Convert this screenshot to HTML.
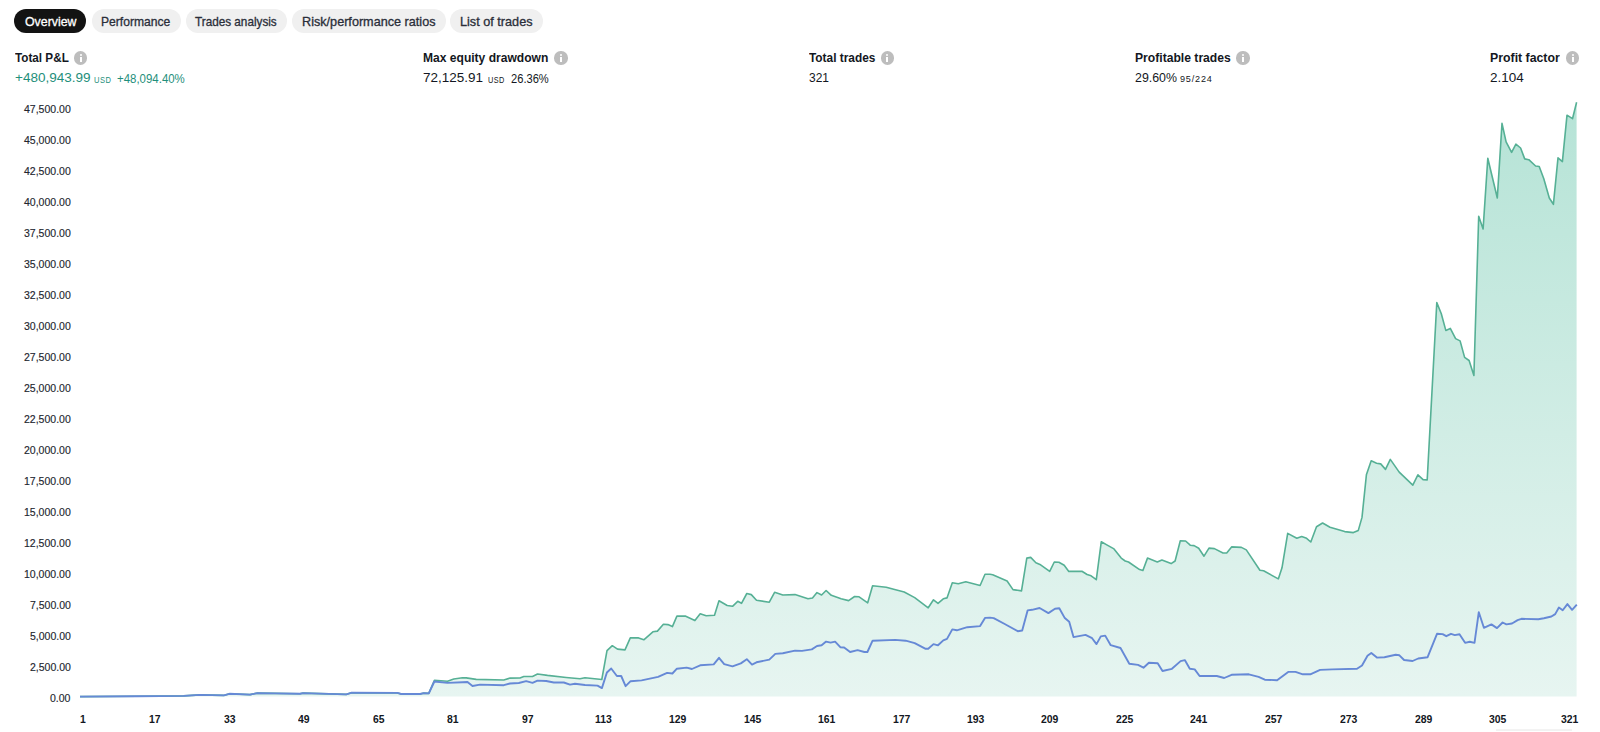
<!DOCTYPE html>
<html><head><meta charset="utf-8">
<style>
html,body{margin:0;padding:0;background:#fff;width:1600px;height:732px;overflow:hidden;position:relative;font-family:"Liberation Sans",sans-serif;}
.pill{position:absolute;top:9.2px;height:23.6px;border-radius:12px;background:#f0f0f0;}
.pill.act{background:#131313;}
.t{position:absolute;white-space:nowrap;transform-origin:0 0;}
.sk{-webkit-text-stroke:0.3px currentColor;}
.sk2{-webkit-text-stroke:0.15px currentColor;}
.info{position:absolute;width:13.4px;height:13.4px;border-radius:50%;background:#bdbdbd;}
.info:before{content:"";position:absolute;left:5.7px;top:2.4px;width:2.1px;height:2px;background:#fff;border-radius:1px;}
.info:after{content:"";position:absolute;left:5.7px;top:5.6px;width:2.1px;height:5.4px;background:#fff;}
svg{position:absolute;left:0;top:0;}
</style></head><body>
<div class="pill act" style="left:14px;width:72.0px"></div><div class="pill" style="left:91.5px;width:89.5px"></div><div class="pill" style="left:186px;width:100.7px"></div><div class="pill" style="left:291.8px;width:153.8px"></div><div class="pill" style="left:450px;width:92.8px"></div>
<div class="info" style="left:74.1px;top:51.3px"></div><div class="info" style="left:554.3px;top:51.3px"></div><div class="info" style="left:880.5px;top:51.3px"></div><div class="info" style="left:1236.4px;top:51.3px"></div><div class="info" style="left:1565.9px;top:51.3px"></div>
<span class="t sk" style="left:24.50px;top:15.70px;font-size:12.40px;line-height:12.40px;font-weight:normal;color:#ffffff;transform:scaleX(0.9960);">Overview</span><span class="t sk" style="left:100.60px;top:15.70px;font-size:12.40px;line-height:12.40px;font-weight:normal;color:#2a2e39;transform:scaleX(0.9776);">Performance</span><span class="t sk" style="left:195.20px;top:15.70px;font-size:12.40px;line-height:12.40px;font-weight:normal;color:#2a2e39;transform:scaleX(0.9470);">Trades analysis</span><span class="t sk" style="left:301.90px;top:15.70px;font-size:12.40px;line-height:12.40px;font-weight:normal;color:#2a2e39;transform:scaleX(1.0204);">Risk/performance ratios</span><span class="t sk" style="left:460.40px;top:15.70px;font-size:12.40px;line-height:12.40px;font-weight:normal;color:#2a2e39;transform:scaleX(1.0227);">List of trades</span><span class="t " style="left:14.60px;top:51.76px;font-size:12.69px;line-height:12.69px;font-weight:bold;color:#131722;transform:scaleX(0.9233);">Total P&amp;L</span><span class="t " style="left:423.20px;top:52.01px;font-size:12.28px;line-height:12.28px;font-weight:bold;color:#131722;transform:scaleX(0.9832);">Max equity drawdown</span><span class="t " style="left:808.60px;top:51.76px;font-size:12.69px;line-height:12.69px;font-weight:bold;color:#131722;transform:scaleX(0.9354);">Total trades</span><span class="t " style="left:1134.60px;top:51.76px;font-size:12.69px;line-height:12.69px;font-weight:bold;color:#131722;transform:scaleX(0.9567);">Profitable trades</span><span class="t " style="left:1490.10px;top:51.76px;font-size:12.69px;line-height:12.69px;font-weight:bold;color:#131722;transform:scaleX(0.9706);">Profit factor</span><span class="t " style="left:15.00px;top:71.46px;font-size:13.40px;line-height:13.40px;font-weight:normal;color:#1f8f7b;transform:scaleX(1.0094);">+480,943.99</span><span class="t " style="left:94.10px;top:74.67px;font-size:9.60px;line-height:9.60px;font-weight:normal;color:#1f8f7b;transform:scaleX(0.7873);letter-spacing:0.6px;">USD</span><span class="t " style="left:117.20px;top:72.64px;font-size:12.00px;line-height:12.00px;font-weight:normal;color:#1f8f7b;transform:scaleX(0.9541);">+48,094.40%</span><span class="t " style="left:423.00px;top:71.46px;font-size:13.40px;line-height:13.40px;font-weight:normal;color:#131722;transform:scaleX(1.0064);">72,125.91</span><span class="t " style="left:488.00px;top:74.67px;font-size:9.60px;line-height:9.60px;font-weight:normal;color:#131722;transform:scaleX(0.7640);letter-spacing:0.6px;">USD</span><span class="t " style="left:511.00px;top:72.64px;font-size:12.00px;line-height:12.00px;font-weight:normal;color:#131722;transform:scaleX(0.9274);">26.36%</span><span class="t " style="left:808.50px;top:71.46px;font-size:13.40px;line-height:13.40px;font-weight:normal;color:#131722;transform:scaleX(0.8948);">321</span><span class="t " style="left:1134.60px;top:71.46px;font-size:13.40px;line-height:13.40px;font-weight:normal;color:#131722;transform:scaleX(0.9240);">29.60%</span><span class="t " style="left:1180.10px;top:74.42px;font-size:9.90px;line-height:9.90px;font-weight:normal;color:#131722;transform:scaleX(0.9171);letter-spacing:0.9px;">95/224</span><span class="t " style="left:1490.10px;top:71.46px;font-size:13.40px;line-height:13.40px;font-weight:normal;color:#131722;transform:scaleX(1.0081);">2.104</span><span class="t sk2" style="left:50.13px;top:692.18px;font-size:11.60px;line-height:11.60px;font-weight:normal;color:#22252e;transform:scaleX(0.9068);">0.00</span><span class="t sk2" style="left:29.65px;top:661.18px;font-size:11.60px;line-height:11.60px;font-weight:normal;color:#22252e;transform:scaleX(0.9068);">2,500.00</span><span class="t sk2" style="left:29.65px;top:630.18px;font-size:11.60px;line-height:11.60px;font-weight:normal;color:#22252e;transform:scaleX(0.9068);">5,000.00</span><span class="t sk2" style="left:29.65px;top:599.18px;font-size:11.60px;line-height:11.60px;font-weight:normal;color:#22252e;transform:scaleX(0.9068);">7,500.00</span><span class="t sk2" style="left:23.80px;top:568.18px;font-size:11.60px;line-height:11.60px;font-weight:normal;color:#22252e;transform:scaleX(0.9068);">10,000.00</span><span class="t sk2" style="left:23.80px;top:537.18px;font-size:11.60px;line-height:11.60px;font-weight:normal;color:#22252e;transform:scaleX(0.9068);">12,500.00</span><span class="t sk2" style="left:23.80px;top:506.18px;font-size:11.60px;line-height:11.60px;font-weight:normal;color:#22252e;transform:scaleX(0.9068);">15,000.00</span><span class="t sk2" style="left:23.80px;top:475.18px;font-size:11.60px;line-height:11.60px;font-weight:normal;color:#22252e;transform:scaleX(0.9068);">17,500.00</span><span class="t sk2" style="left:23.80px;top:444.18px;font-size:11.60px;line-height:11.60px;font-weight:normal;color:#22252e;transform:scaleX(0.9068);">20,000.00</span><span class="t sk2" style="left:23.80px;top:413.18px;font-size:11.60px;line-height:11.60px;font-weight:normal;color:#22252e;transform:scaleX(0.9068);">22,500.00</span><span class="t sk2" style="left:23.80px;top:382.18px;font-size:11.60px;line-height:11.60px;font-weight:normal;color:#22252e;transform:scaleX(0.9068);">25,000.00</span><span class="t sk2" style="left:23.80px;top:351.18px;font-size:11.60px;line-height:11.60px;font-weight:normal;color:#22252e;transform:scaleX(0.9068);">27,500.00</span><span class="t sk2" style="left:23.80px;top:320.18px;font-size:11.60px;line-height:11.60px;font-weight:normal;color:#22252e;transform:scaleX(0.9068);">30,000.00</span><span class="t sk2" style="left:23.80px;top:289.18px;font-size:11.60px;line-height:11.60px;font-weight:normal;color:#22252e;transform:scaleX(0.9068);">32,500.00</span><span class="t sk2" style="left:23.80px;top:258.18px;font-size:11.60px;line-height:11.60px;font-weight:normal;color:#22252e;transform:scaleX(0.9068);">35,000.00</span><span class="t sk2" style="left:23.80px;top:227.18px;font-size:11.60px;line-height:11.60px;font-weight:normal;color:#22252e;transform:scaleX(0.9068);">37,500.00</span><span class="t sk2" style="left:23.80px;top:196.18px;font-size:11.60px;line-height:11.60px;font-weight:normal;color:#22252e;transform:scaleX(0.9068);">40,000.00</span><span class="t sk2" style="left:23.80px;top:165.18px;font-size:11.60px;line-height:11.60px;font-weight:normal;color:#22252e;transform:scaleX(0.9068);">42,500.00</span><span class="t sk2" style="left:23.80px;top:134.18px;font-size:11.60px;line-height:11.60px;font-weight:normal;color:#22252e;transform:scaleX(0.9068);">45,000.00</span><span class="t sk2" style="left:23.80px;top:103.18px;font-size:11.60px;line-height:11.60px;font-weight:normal;color:#22252e;transform:scaleX(0.9068);">47,500.00</span><span class="t " style="left:79.60px;top:714.50px;font-size:10.40px;line-height:10.40px;font-weight:bold;color:#131722;transform:scaleX(1.0030);">1</span><span class="t " style="left:149.30px;top:714.50px;font-size:10.40px;line-height:10.40px;font-weight:bold;color:#131722;transform:scaleX(1.0030);">17</span><span class="t " style="left:223.90px;top:714.50px;font-size:10.40px;line-height:10.40px;font-weight:bold;color:#131722;transform:scaleX(1.0030);">33</span><span class="t " style="left:298.20px;top:714.50px;font-size:10.40px;line-height:10.40px;font-weight:bold;color:#131722;transform:scaleX(1.0030);">49</span><span class="t " style="left:372.70px;top:714.50px;font-size:10.40px;line-height:10.40px;font-weight:bold;color:#131722;transform:scaleX(1.0030);">65</span><span class="t " style="left:447.20px;top:714.50px;font-size:10.40px;line-height:10.40px;font-weight:bold;color:#131722;transform:scaleX(1.0030);">81</span><span class="t " style="left:522.20px;top:714.50px;font-size:10.40px;line-height:10.40px;font-weight:bold;color:#131722;transform:scaleX(1.0030);">97</span><span class="t " style="left:594.59px;top:714.50px;font-size:10.40px;line-height:10.40px;font-weight:bold;color:#131722;transform:scaleX(1.0030);">113</span><span class="t " style="left:669.10px;top:714.50px;font-size:10.40px;line-height:10.40px;font-weight:bold;color:#131722;transform:scaleX(1.0030);">129</span><span class="t " style="left:743.60px;top:714.50px;font-size:10.40px;line-height:10.40px;font-weight:bold;color:#131722;transform:scaleX(1.0030);">145</span><span class="t " style="left:817.70px;top:714.50px;font-size:10.40px;line-height:10.40px;font-weight:bold;color:#131722;transform:scaleX(1.0030);">161</span><span class="t " style="left:892.70px;top:714.50px;font-size:10.40px;line-height:10.40px;font-weight:bold;color:#131722;transform:scaleX(1.0030);">177</span><span class="t " style="left:966.70px;top:714.50px;font-size:10.40px;line-height:10.40px;font-weight:bold;color:#131722;transform:scaleX(1.0030);">193</span><span class="t " style="left:1041.40px;top:714.50px;font-size:10.40px;line-height:10.40px;font-weight:bold;color:#131722;transform:scaleX(1.0030);">209</span><span class="t " style="left:1115.90px;top:714.50px;font-size:10.40px;line-height:10.40px;font-weight:bold;color:#131722;transform:scaleX(1.0030);">225</span><span class="t " style="left:1190.30px;top:714.50px;font-size:10.40px;line-height:10.40px;font-weight:bold;color:#131722;transform:scaleX(1.0030);">241</span><span class="t " style="left:1265.00px;top:714.50px;font-size:10.40px;line-height:10.40px;font-weight:bold;color:#131722;transform:scaleX(1.0030);">257</span><span class="t " style="left:1339.60px;top:714.50px;font-size:10.40px;line-height:10.40px;font-weight:bold;color:#131722;transform:scaleX(1.0030);">273</span><span class="t " style="left:1414.50px;top:714.50px;font-size:10.40px;line-height:10.40px;font-weight:bold;color:#131722;transform:scaleX(1.0030);">289</span><span class="t " style="left:1488.80px;top:714.50px;font-size:10.40px;line-height:10.40px;font-weight:bold;color:#131722;transform:scaleX(1.0030);">305</span><span class="t " style="left:1561.30px;top:714.50px;font-size:10.40px;line-height:10.40px;font-weight:bold;color:#131722;transform:scaleX(1.0030);">321</span>
<svg width="1600" height="732" viewBox="0 0 1600 732">
<defs><linearGradient id="gf" x1="0" y1="100" x2="0" y2="697" gradientUnits="userSpaceOnUse">
<stop offset="0" stop-color="#b5e3d6"/><stop offset="1" stop-color="#e7f5f1"/></linearGradient></defs>
<path d="M80.0 696.6 L137.5 696.2 L183.8 695.9 L200.0 694.9 L223.8 695.4 L229.4 693.8 L250.0 694.6 L257.5 693.1 L275.0 693.4 L300.0 693.8 L303.1 693.1 L320.0 693.6 L346.2 694.4 L351.2 692.8 L397.5 692.9 L401.2 694.0 L420.0 694.0 L423.8 693.1 L428.8 693.4 L434.4 680.3 L447.5 681.2 L453.8 679.0 L462.5 677.8 L466.2 677.9 L476.2 679.4 L503.8 680.0 L510.0 678.1 L520.0 678.0 L523.8 676.5 L532.5 676.5 L537.5 674.0 L547.5 675.4 L566.2 677.5 L580.0 678.8 L585.0 677.8 L601.8 679.5 L607.0 650.6 L612.3 645.7 L617.5 649.1 L625.0 649.9 L630.3 637.9 L638.6 637.9 L643.8 639.8 L652.9 631.8 L657.4 631.1 L663.4 624.3 L667.9 624.6 L672.4 626.6 L676.9 616.1 L685.2 616.1 L694.9 620.6 L700.2 613.8 L706.2 615.8 L714.5 615.3 L719.0 600.7 L727.2 605.5 L732.5 606.3 L737.7 601.3 L741.5 603.3 L746.8 593.5 L751.3 594.6 L756.5 600.3 L769.3 602.2 L774.6 592.3 L782.8 595.0 L795.0 594.6 L808.0 598.8 L812.5 598.0 L817.0 592.6 L821.6 595.0 L826.1 590.5 L831.3 595.3 L841.1 598.8 L848.6 600.6 L854.6 596.5 L859.1 596.8 L867.7 602.8 L872.6 585.8 L886.2 587.3 L893.7 589.3 L904.2 592.0 L914.7 597.6 L928.2 607.8 L933.5 599.8 L938.0 603.3 L943.3 598.8 L947.0 597.9 L952.3 582.8 L958.3 583.7 L965.8 581.8 L980.1 585.5 L985.0 574.3 L990.0 574.3 L992.7 574.8 L1007.1 581.0 L1013.0 589.6 L1021.5 590.9 L1026.8 558.1 L1030.7 557.4 L1035.9 562.7 L1039.9 564.4 L1049.7 571.4 L1054.3 562.0 L1058.9 562.3 L1064.2 565.3 L1068.8 571.4 L1081.9 571.2 L1087.1 574.5 L1091.1 575.8 L1096.3 579.7 L1101.3 541.7 L1106.8 544.9 L1114.0 548.9 L1121.2 558.1 L1125.2 561.0 L1128.5 562.0 L1139.6 569.6 L1142.9 570.5 L1147.5 558.1 L1157.3 562.0 L1161.9 560.0 L1171.1 563.6 L1175.1 561.0 L1180.3 540.7 L1185.6 541.0 L1190.2 545.2 L1194.1 545.6 L1198.7 548.2 L1204.0 556.2 L1209.0 548.1 L1214.4 548.6 L1223.0 553.0 L1226.7 553.0 L1231.6 546.9 L1241.4 547.4 L1246.3 549.9 L1259.9 570.3 L1263.6 570.8 L1278.3 578.9 L1282.0 567.8 L1287.7 533.4 L1296.8 538.3 L1301.7 536.6 L1306.6 538.3 L1310.8 542.0 L1316.5 526.7 L1322.6 523.0 L1330.0 527.2 L1344.7 531.6 L1353.4 532.6 L1358.3 530.4 L1362.0 517.4 L1366.4 474.8 L1371.2 460.8 L1376.6 463.2 L1380.7 463.9 L1385.5 469.4 L1390.3 459.4 L1399.2 472.1 L1412.8 485.1 L1417.9 474.8 L1423.1 479.6 L1427.2 479.9 L1436.8 302.6 L1441.3 313.8 L1445.8 330.4 L1450.3 328.4 L1455.6 338.6 L1460.1 340.9 L1464.6 357.4 L1469.1 360.5 L1473.9 375.5 L1478.7 216.3 L1483.1 228.9 L1487.8 158.3 L1492.4 177.5 L1497.3 198.0 L1502.0 123.4 L1506.1 141.9 L1511.6 152.3 L1515.9 144.1 L1520.6 148.0 L1524.7 158.9 L1528.8 159.7 L1535.6 166.0 L1539.2 166.5 L1543.8 178.8 L1549.3 198.0 L1553.4 204.3 L1558.0 157.8 L1562.4 161.6 L1567.0 115.2 L1572.5 118.7 L1576.6 102.3 L1576.6 696.6 L80.0 696.6 Z" fill="url(#gf)" stroke="none"/>
<path d="M80.0 696.6 L137.5 696.2 L183.8 695.9 L200.0 694.9 L223.8 695.4 L229.4 693.8 L250.0 694.6 L257.5 693.1 L275.0 693.4 L300.0 693.8 L303.1 693.1 L320.0 693.6 L346.2 694.4 L351.2 692.8 L397.5 692.9 L401.2 694.0 L420.0 694.0 L423.8 693.1 L428.8 693.4 L434.4 680.3 L447.5 681.2 L453.8 679.0 L462.5 677.8 L466.2 677.9 L476.2 679.4 L503.8 680.0 L510.0 678.1 L520.0 678.0 L523.8 676.5 L532.5 676.5 L537.5 674.0 L547.5 675.4 L566.2 677.5 L580.0 678.8 L585.0 677.8 L601.8 679.5 L607.0 650.6 L612.3 645.7 L617.5 649.1 L625.0 649.9 L630.3 637.9 L638.6 637.9 L643.8 639.8 L652.9 631.8 L657.4 631.1 L663.4 624.3 L667.9 624.6 L672.4 626.6 L676.9 616.1 L685.2 616.1 L694.9 620.6 L700.2 613.8 L706.2 615.8 L714.5 615.3 L719.0 600.7 L727.2 605.5 L732.5 606.3 L737.7 601.3 L741.5 603.3 L746.8 593.5 L751.3 594.6 L756.5 600.3 L769.3 602.2 L774.6 592.3 L782.8 595.0 L795.0 594.6 L808.0 598.8 L812.5 598.0 L817.0 592.6 L821.6 595.0 L826.1 590.5 L831.3 595.3 L841.1 598.8 L848.6 600.6 L854.6 596.5 L859.1 596.8 L867.7 602.8 L872.6 585.8 L886.2 587.3 L893.7 589.3 L904.2 592.0 L914.7 597.6 L928.2 607.8 L933.5 599.8 L938.0 603.3 L943.3 598.8 L947.0 597.9 L952.3 582.8 L958.3 583.7 L965.8 581.8 L980.1 585.5 L985.0 574.3 L990.0 574.3 L992.7 574.8 L1007.1 581.0 L1013.0 589.6 L1021.5 590.9 L1026.8 558.1 L1030.7 557.4 L1035.9 562.7 L1039.9 564.4 L1049.7 571.4 L1054.3 562.0 L1058.9 562.3 L1064.2 565.3 L1068.8 571.4 L1081.9 571.2 L1087.1 574.5 L1091.1 575.8 L1096.3 579.7 L1101.3 541.7 L1106.8 544.9 L1114.0 548.9 L1121.2 558.1 L1125.2 561.0 L1128.5 562.0 L1139.6 569.6 L1142.9 570.5 L1147.5 558.1 L1157.3 562.0 L1161.9 560.0 L1171.1 563.6 L1175.1 561.0 L1180.3 540.7 L1185.6 541.0 L1190.2 545.2 L1194.1 545.6 L1198.7 548.2 L1204.0 556.2 L1209.0 548.1 L1214.4 548.6 L1223.0 553.0 L1226.7 553.0 L1231.6 546.9 L1241.4 547.4 L1246.3 549.9 L1259.9 570.3 L1263.6 570.8 L1278.3 578.9 L1282.0 567.8 L1287.7 533.4 L1296.8 538.3 L1301.7 536.6 L1306.6 538.3 L1310.8 542.0 L1316.5 526.7 L1322.6 523.0 L1330.0 527.2 L1344.7 531.6 L1353.4 532.6 L1358.3 530.4 L1362.0 517.4 L1366.4 474.8 L1371.2 460.8 L1376.6 463.2 L1380.7 463.9 L1385.5 469.4 L1390.3 459.4 L1399.2 472.1 L1412.8 485.1 L1417.9 474.8 L1423.1 479.6 L1427.2 479.9 L1436.8 302.6 L1441.3 313.8 L1445.8 330.4 L1450.3 328.4 L1455.6 338.6 L1460.1 340.9 L1464.6 357.4 L1469.1 360.5 L1473.9 375.5 L1478.7 216.3 L1483.1 228.9 L1487.8 158.3 L1492.4 177.5 L1497.3 198.0 L1502.0 123.4 L1506.1 141.9 L1511.6 152.3 L1515.9 144.1 L1520.6 148.0 L1524.7 158.9 L1528.8 159.7 L1535.6 166.0 L1539.2 166.5 L1543.8 178.8 L1549.3 198.0 L1553.4 204.3 L1558.0 157.8 L1562.4 161.6 L1567.0 115.2 L1572.5 118.7 L1576.6 102.3" fill="none" stroke="#56b095" stroke-width="1.6" stroke-linejoin="round"/>
<path d="M80.0 696.6 L137.5 696.2 L183.8 695.9 L200.0 694.9 L223.8 695.4 L229.4 693.8 L250.0 694.6 L257.5 693.1 L275.0 693.4 L300.0 693.8 L303.1 693.1 L320.0 693.6 L346.2 694.4 L351.2 692.8 L397.5 692.9 L401.2 694.0 L420.0 694.0 L423.8 693.1 L428.8 693.4 L434.4 681.5 L447.5 682.9 L462.5 682.2 L467.5 682.0 L472.5 686.0 L480.0 684.6 L503.8 685.2 L510.0 683.5 L518.8 683.0 L526.2 681.2 L532.5 682.8 L537.5 680.6 L546.2 681.0 L553.8 682.5 L563.8 682.5 L570.0 684.6 L575.0 683.8 L585.0 685.0 L597.5 685.6 L601.9 688.1 L606.9 672.5 L611.2 668.5 L616.9 676.0 L621.2 676.0 L625.6 686.2 L630.6 681.2 L641.6 680.4 L658.1 676.9 L667.1 672.9 L672.4 673.5 L676.9 668.7 L686.7 667.6 L691.9 669.0 L700.2 665.3 L713.7 664.4 L719.0 657.8 L724.2 664.1 L732.5 666.4 L740.8 663.4 L746.8 659.2 L752.0 664.6 L756.5 662.3 L769.3 659.6 L775.3 653.9 L782.8 653.3 L795.0 650.6 L802.0 650.9 L811.8 649.4 L817.0 646.0 L821.6 645.3 L826.1 641.6 L830.6 642.6 L835.1 641.6 L840.3 647.2 L844.1 647.5 L850.1 652.0 L857.6 650.2 L864.4 652.0 L867.4 652.0 L872.6 640.7 L895.2 639.9 L905.7 640.7 L914.7 643.1 L925.2 648.7 L928.2 648.7 L933.5 644.1 L938.0 645.3 L943.3 640.4 L947.0 638.9 L952.3 629.4 L956.8 630.3 L967.3 627.2 L980.1 626.1 L985.0 617.9 L990.0 617.6 L993.7 618.1 L1004.7 624.0 L1017.8 631.2 L1022.2 630.5 L1027.6 610.4 L1032.0 609.8 L1039.6 608.0 L1048.4 613.1 L1055.0 608.7 L1059.3 608.3 L1064.8 618.1 L1069.2 621.8 L1073.5 637.1 L1085.5 634.9 L1092.1 638.2 L1096.5 644.1 L1100.8 636.4 L1105.2 635.6 L1110.7 645.2 L1120.5 648.0 L1129.3 663.8 L1138.0 664.9 L1143.5 667.7 L1148.9 662.7 L1157.7 663.3 L1162.5 671.0 L1171.9 668.8 L1180.6 661.1 L1184.8 660.1 L1189.8 668.7 L1194.7 669.4 L1199.6 676.0 L1216.8 676.0 L1224.2 678.0 L1231.6 674.8 L1248.8 674.3 L1258.6 676.8 L1264.8 679.7 L1277.1 680.2 L1288.2 671.9 L1295.5 671.9 L1302.9 674.3 L1310.3 674.3 L1320.1 669.9 L1332.4 669.4 L1357.0 668.7 L1362.0 665.5 L1367.5 655.7 L1371.3 652.9 L1376.9 657.6 L1384.4 657.2 L1395.7 654.8 L1399.4 655.3 L1404.1 660.0 L1412.6 661.0 L1418.2 658.5 L1427.6 657.2 L1437.0 633.8 L1442.6 634.1 L1446.3 636.2 L1451.0 633.8 L1454.8 635.1 L1459.5 634.3 L1465.1 642.8 L1469.8 641.7 L1474.5 642.8 L1478.8 612.2 L1483.9 627.8 L1491.4 624.4 L1497.0 628.1 L1502.6 622.5 L1506.4 624.4 L1512.0 623.5 L1517.6 620.1 L1521.4 618.8 L1538.3 619.3 L1543.9 618.2 L1551.4 616.5 L1555.2 614.1 L1558.9 607.5 L1562.7 610.3 L1567.4 604.1 L1572.1 609.8 L1576.8 604.7" fill="none" stroke="#6689d6" stroke-width="1.9" stroke-linejoin="round"/>
<line x1="1496" y1="730" x2="1572" y2="730" stroke="#e6e6e6" stroke-width="1"/>
</svg>
</body></html>
